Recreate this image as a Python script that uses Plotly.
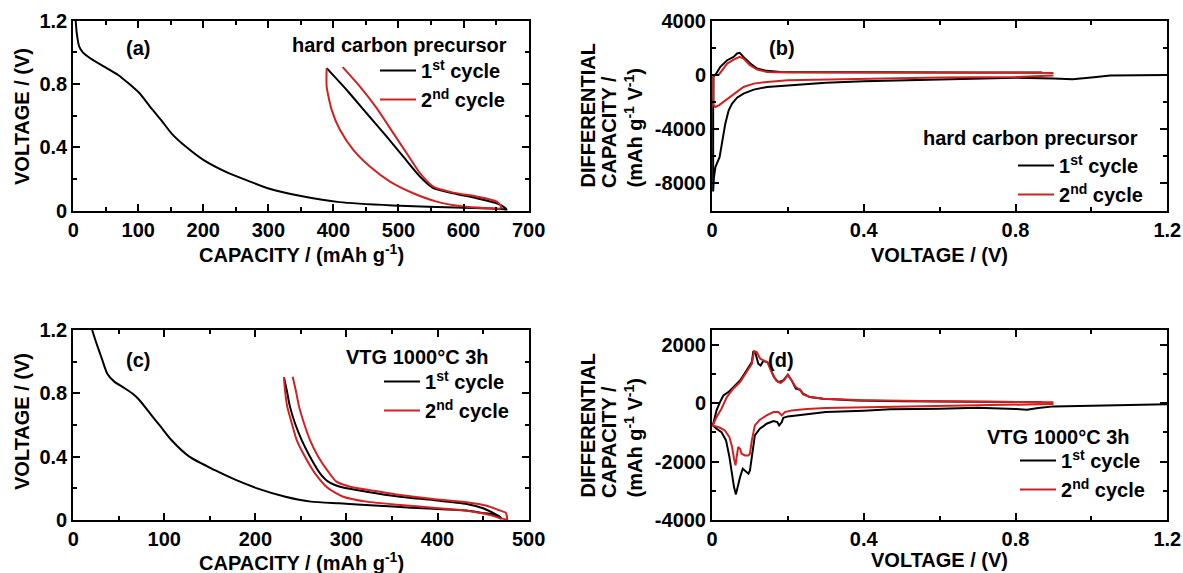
import plotly.graph_objects as go

# ---------------- (a) hard carbon precursor: voltage profiles ----------------
a1_dis_cap = [3.8, 5.5, 9.3, 14.8, 30, 52, 69, 85, 102, 118, 135, 151, 173, 200, 239, 272,
              299, 354, 409, 491, 601, 661, 666]
a1_dis_v = [1.2, 1.12, 1.036, 1.0, 0.952, 0.899, 0.857, 0.804, 0.741, 0.657, 0.573, 0.488,
            0.404, 0.32, 0.236, 0.183, 0.141, 0.088, 0.053, 0.032, 0.017, 0.008, 0.002]
a1_chg_cap = [665, 661, 651, 620, 584, 553.5, 533, 507.4, 481.9, 451, 420.4, 389.6]
a1_chg_v = [0.012, 0.025, 0.046, 0.078, 0.109, 0.141, 0.214, 0.34, 0.467, 0.615, 0.762, 0.90]

a2_dis_cap = [389.6, 389.6, 397.3, 410, 430.5, 456, 487, 522.7, 558.7, 599.6, 635.6, 656]
a2_dis_v = [0.9, 0.783, 0.636, 0.51, 0.383, 0.278, 0.183, 0.109, 0.056, 0.025, 0.015, 0.012]
a2_chg_cap = [658, 651, 620, 584, 553.5, 533, 512.6, 492, 466.5, 440.8, 414.2]
a2_chg_v = [0.025, 0.056, 0.088, 0.113, 0.151, 0.236, 0.362, 0.489, 0.647, 0.783, 0.906]

# ---------------- (b) hard carbon precursor: differential capacity ----------------
b1_v = [1.2, 1.1, 1.05, 1.0, 0.95, 0.9, 0.8, 0.6, 0.4, 0.3, 0.2, 0.145, 0.11, 0.083, 0.066,
        0.053, 0.044, 0.035, 0.029, 0.024, 0.02, 0.018, 0.013, 0.009, 0.005, 0.003,
        0.003, 0.004, 0.01, 0.022, 0.04, 0.057, 0.066, 0.073, 0.083, 0.101, 0.119, 0.145,
        0.18, 0.3, 0.5, 0.7, 0.87]
b1_dq = [0, -20, -40, -190, -310, -260, -210, -340, -460, -580, -750, -888, -1085, -1380,
         -1677, -2120, -2614, -3600, -4587, -5573, -6066, -6190, -6560, -6800, -7600, -8600,
         -3000, -100, 50, 600, 1085, 1330, 1580, 1630, 1330, 840, 470, 300, 220, 200, 190,
         180, 170]

b2_v = [0.9, 0.8, 0.6, 0.4, 0.2, 0.145, 0.11, 0.083, 0.066, 0.048, 0.031, 0.018, 0.009,
        0.004, 0.003, 0.006, 0.018, 0.026, 0.04, 0.057, 0.073, 0.083, 0.1, 0.119, 0.145,
        0.2, 0.4, 0.6, 0.8, 0.9]
b2_dq = [-50, -150, -190, -290, -390, -518, -641, -888, -1258, -1628, -2000, -2244, -2367,
         -2244, -100, 0, 20, 350, 840, 1130, 1330, 1210, 715, 400, 220, 180, 170, 160, 160,
         150]

# ---------------- (c) VTG 1000°C 3h: voltage profiles ----------------
c1_dis_cap = [20.8, 25.5, 31.4, 37.3, 45.1, 54.9, 64.7, 72.6, 84.3, 96.1, 107.8, 127.5, 155,
              178.5, 202, 233, 261, 292, 331, 371, 410, 432, 449, 461, 469]
c1_dis_v = [1.2, 1.116, 1.02, 0.926, 0.874, 0.838, 0.80, 0.758, 0.674, 0.589, 0.505, 0.40,
            0.316, 0.253, 0.20, 0.147, 0.116, 0.105, 0.092, 0.078, 0.066, 0.06, 0.045,
            0.035, 0.01]
c1_chg_cap = [470, 465, 450, 432, 395, 358.8, 322, 293, 280, 271, 260, 250.9, 243.5, 238,
              234.4, 231.4]
c1_chg_v = [0.012, 0.032, 0.074, 0.101, 0.126, 0.147, 0.179, 0.21, 0.242, 0.295, 0.40,
            0.505, 0.611, 0.716, 0.821, 0.901]

c2_dis_cap = [231.4, 232.5, 235, 240, 245.4, 254.5, 265.5, 280, 296.5, 322, 358.8, 395, 432,
              457.6, 468.6, 476.5]
c2_dis_v = [0.9, 0.821, 0.716, 0.611, 0.505, 0.40, 0.295, 0.20, 0.147, 0.116, 0.095, 0.078,
            0.059, 0.032, 0.012, 0.005]
c2_chg_cap = [476.5, 475, 467, 454, 432, 395, 358.8, 329.5, 304, 289, 280, 269, 260, 253.4,
              248, 244.3, 241]
c2_chg_v = [0.01, 0.045, 0.063, 0.09, 0.112, 0.133, 0.158, 0.185, 0.21, 0.242, 0.305, 0.40,
            0.505, 0.611, 0.716, 0.821, 0.905]

# ---------------- (d) VTG 1000°C 3h: differential capacity ----------------
d1_v = [1.2, 1.1, 1.0, 0.9, 0.86, 0.83, 0.8, 0.7, 0.6, 0.47, 0.4, 0.3, 0.2, 0.188, 0.184,
        0.177, 0.172, 0.162, 0.144, 0.126, 0.113, 0.105, 0.1, 0.096, 0.087, 0.081, 0.074,
        0.068, 0.063, 0.058, 0.053, 0.046, 0.037, 0.025, 0.012, 0.0035, 0.001,
        0.0035, 0.012, 0.021, 0.03, 0.043, 0.056, 0.074, 0.091, 0.105, 0.109, 0.115, 0.122,
        0.128, 0.135, 0.146, 0.153, 0.163, 0.175, 0.188, 0.2, 0.21, 0.221, 0.232, 0.24,
        0.258, 0.293, 0.381, 0.5, 0.7, 0.87]
d1_dq = [-40, -60, -80, -113, -170, -227, -200, -160, -190, -215, -260, -308, -456, -502,
         -650, -764, -650, -616, -707, -878, -1106, -1790, -2303, -2417, -2303, -2246, -2530,
         -2873, -3124, -2873, -2417, -1847, -1277, -992, -878, -798, -750,
         -700, -250, 34, 262, 376, 547, 775, 1117, 1400, 1778, 1687, 1345, 1288, 1436, 1400,
         1231, 889, 718, 775, 969, 775, 490, 456, 319, 205, 148, 91, 60, 40, 30]

d2_v = [0.9, 0.7, 0.47, 0.3, 0.25, 0.21, 0.192, 0.184, 0.175, 0.162, 0.144, 0.126, 0.113,
        0.105, 0.1, 0.096, 0.087, 0.078, 0.074, 0.069, 0.065, 0.062, 0.058, 0.053, 0.046,
        0.034, 0.021, 0.008, 0.002,
        0.012, 0.025, 0.039, 0.056, 0.074, 0.091, 0.105, 0.111, 0.118, 0.127, 0.137, 0.146,
        0.157, 0.169, 0.181, 0.191, 0.2, 0.21, 0.221, 0.232, 0.24, 0.258, 0.293, 0.4, 0.6,
        0.9]
d2_dq = [-30, -70, -114, -171, -205, -250, -308, -422, -308, -308, -422, -570, -764, -1277,
         -1733, -1790, -1790, -1733, -1562, -1505, -1847, -2132, -1904, -1505, -1163, -935,
         -844, -798, -764,
         -479, -194, 205, 490, 718, 1060, 1345, 1778, 1744, 1516, 1459, 1400, 1060, 775, 684,
         798, 969, 775, 547, 456, 296, 205, 148, 100, 60, 30]

# ---------------- labels ----------------
cycle_names = ["1<sup>st</sup> cycle", "2<sup>nd</sup> cycle"]
cycle_colors = ["#000000", "#d42020"]
sample_names = ["hard carbon precursor", "hard carbon precursor", "VTG 1000°C 3h", "VTG 1000°C 3h"]
panel_tags = ["(a)", "(b)", "(c)", "(d)"]
cap_title = "CAPACITY / (mAh g<sup>-1</sup>)"
volt_title = "VOLTAGE / (V)"
dq_title_lines = ["DIFFERENTIAL", "CAPACITY /", "(mAh g<sup>-1</sup> V<sup>-1</sup>)"]

b_ticks = [-8000, -4000, 0, 4000]
d_ticks = [-4000, -2000, 0, 2000]

W, H = 1183, 573
FONT = "Liberation Sans, Arial, Helvetica, sans-serif"
FS = 20


def px_x(p):
    return p / W


def px_y(p):
    return 1 - p / H


fig = go.Figure()

panels = [
    ("x", "y", "legend", a1_dis_cap + a1_chg_cap, a1_dis_v + a1_chg_v,
     a2_dis_cap + a2_chg_cap, a2_dis_v + a2_chg_v, "spline"),
    ("x2", "y2", "legend2", b1_v, b1_dq, b2_v, b2_dq, "linear"),
    ("x3", "y3", "legend3", c1_dis_cap + c1_chg_cap, c1_dis_v + c1_chg_v,
     c2_dis_cap + c2_chg_cap, c2_dis_v + c2_chg_v, "spline"),
    ("x4", "y4", "legend4", d1_v, d1_dq, d2_v, d2_dq, "linear"),
]

for xa, ya, lg, x1, y1, x2, y2, shape in panels:
    for name, color, xs, ys in [(cycle_names[0], cycle_colors[0], x1, y1),
                                (cycle_names[1], cycle_colors[1], x2, y2)]:
        line = dict(color=color, width=2, shape=shape)
        if shape == "spline":
            line["smoothing"] = 0.6
        fig.add_trace(go.Scatter(x=xs, y=ys, mode="lines", name=name, line=line,
                                 xaxis=xa, yaxis=ya, legend=lg, legendgroup=lg + name,
                                 showlegend=True))

tickfont = dict(family=FONT, size=FS, color="black", weight="bold")


def axis_style(**kw):
    base = dict(showline=True, linecolor="black", linewidth=2, mirror="ticks",
                ticks="inside", ticklen=7, tickwidth=2, tickcolor="black",
                showgrid=False, zeroline=False, tickfont=tickfont, automargin=False,
                ticklabeloverflow="allow", fixedrange=True)
    base.update(kw)
    return base


# plot-area boxes (pixels): left, right, top, bottom
boxes = {
    "a": (73.2, 528.6, 20.7, 210.5),
    "b": (712.0, 1167.3, 20.7, 210.5),
    "c": (73.2, 528.6, 330.0, 520.0),
    "d": (712.0, 1167.3, 330.0, 520.0),
}


def dom(box):
    l, r, t, b = box
    return [px_x(l), px_x(r)], [px_y(b), px_y(t)]


xa_d, ya_d = dom(boxes["a"])
xb_d, yb_d = dom(boxes["b"])
xc_d, yc_d = dom(boxes["c"])
xd_d, yd_d = dom(boxes["d"])


def minor_small(dt):
    return dict(ticks="inside", ticklen=4, tickwidth=2, tickcolor="black", dtick=dt,
                showgrid=False)


fig.update_layout(
    width=W, height=H,
    margin=dict(l=0, r=0, t=0, b=0),
    paper_bgcolor="white", plot_bgcolor="white",
    font=dict(family=FONT, size=FS, color="black"),
    xaxis=axis_style(domain=xa_d, anchor="y", range=[0, 700], dtick=100,
                     minor=minor_small(50)),
    yaxis=axis_style(domain=ya_d, anchor="x", range=[0, 1.2], dtick=0.4,
                     minor=minor_small(0.2)),
    xaxis2=axis_style(domain=xb_d, anchor="y2", range=[0, 1.2], dtick=0.4,
                      minor=minor_small(0.2)),
    yaxis2=axis_style(domain=yb_d, anchor="x2", range=[-10000, 4000], tickmode="array",
                      tickvals=b_ticks, ticktext=[str(v) for v in b_ticks],
                      minor=minor_small(2000)),
    xaxis3=axis_style(domain=xc_d, anchor="y3", range=[0, 500], dtick=100,
                      minor=minor_small(50)),
    yaxis3=axis_style(domain=yc_d, anchor="x3", range=[0, 1.2], dtick=0.4,
                      minor=minor_small(0.2)),
    xaxis4=axis_style(domain=xd_d, anchor="y4", range=[0, 1.2], dtick=0.4,
                      minor=minor_small(0.2)),
    yaxis4=axis_style(domain=yd_d, anchor="x4", range=[-4000, 2500], tickmode="array",
                      tickvals=d_ticks, ticktext=[str(v) for v in d_ticks],
                      minor=minor_small(1000)),
)

# legends: one per panel, positioned by the left edge of the line sample and top edge
legend_pos = {
    "legend": (375, 51),
    "legend2": (1013, 146),
    "legend3": (379, 362),
    "legend4": (1015, 441),
}
for key, (lx, ly) in legend_pos.items():
    fig.update_layout({key: dict(x=px_x(lx), y=px_y(ly), xanchor="left", yanchor="top",
                                 bgcolor="rgba(0,0,0,0)", borderwidth=0, itemwidth=36,
                                 tracegroupgap=0, traceorder="normal",
                                 font=dict(family=FONT, size=FS, color="black",
                                           weight="bold"))})

annotations = []


def text(s, x, y, xanchor="center", yanchor="middle", angle=0, size=FS):
    annotations.append(dict(text=s, x=px_x(x), y=px_y(y), xref="paper", yref="paper",
                            xanchor=xanchor, yanchor=yanchor, showarrow=False,
                            textangle=angle,
                            font=dict(family=FONT, size=size, color="black",
                                      weight="bold")))


# panel tags
text(panel_tags[0], 137.5, 48.3)
text(panel_tags[1], 782, 48.3)
text(panel_tags[2], 137.5, 360)
text(panel_tags[3], 781, 360)

# legend headings
text(sample_names[0], 509, 45, xanchor="right")
text(sample_names[1], 1140, 138.3, xanchor="right")
text(sample_names[2], 491, 356.7, xanchor="right")
text(sample_names[3], 1132, 436.7, xanchor="right")

# axis titles
text(cap_title, 301, 253)
text(volt_title, 939.5, 255)
text(cap_title, 301, 561)
text(volt_title, 939.5, 560)
text(volt_title, 22, 117, angle=-90)
text(volt_title, 22, 422, angle=-90)
for cx, line in zip([587.5, 609, 633], dq_title_lines):
    text(line, cx, 190, yanchor="bottom", angle=-90)
    text(line, cx, 500, yanchor="bottom", angle=-90)

fig.update_layout(annotations=annotations)

fig.write_html("out.html")
